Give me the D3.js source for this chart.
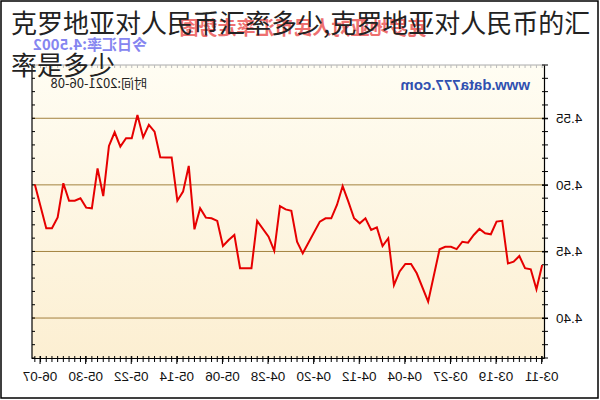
<!DOCTYPE html>
<html><head><meta charset="utf-8">
<script src="https://cdn.jsdelivr.net/npm/d3@7"></script>
<style>html,body{margin:0;padding:0;background:#fff;}svg{display:block;}</style>
</head><body>
<svg id="c" width="600" height="400"></svg>
<script>
const titleLines = ["克罗地亚对人民币汇率多少,克罗地亚对人民币的汇", "率是多少"];
const chartTitle = "克罗地亚对人民币汇率走势图";
const todayText = "今日汇率:4.5002";
const timeText = "时间:2021-06-08";
const siteText = "www.data777.com";
const dates = ["2021-03-11","2021-03-12","2021-03-13","2021-03-14","2021-03-15","2021-03-16","2021-03-17","2021-03-18","2021-03-19","2021-03-20","2021-03-21","2021-03-22","2021-03-23","2021-03-24","2021-03-25","2021-03-26","2021-03-27","2021-03-28","2021-03-29","2021-03-31","2021-04-02","2021-04-03","2021-04-04","2021-04-05","2021-04-06","2021-04-07","2021-04-08","2021-04-09","2021-04-10","2021-04-11","2021-04-12","2021-04-13","2021-04-14","2021-04-15","2021-04-16","2021-04-17","2021-04-18","2021-04-19","2021-04-22","2021-04-23","2021-04-24","2021-04-25","2021-04-26","2021-04-27","2021-04-28","2021-04-30","2021-05-01","2021-05-02","2021-05-03","2021-05-04","2021-05-05","2021-05-06","2021-05-07","2021-05-08","2021-05-09","2021-05-10","2021-05-11","2021-05-12","2021-05-13","2021-05-14","2021-05-15","2021-05-16","2021-05-17","2021-05-18","2021-05-19","2021-05-20","2021-05-21","2021-05-22","2021-05-23","2021-05-24","2021-05-25","2021-05-26","2021-05-27","2021-05-28","2021-05-29","2021-05-30","2021-05-31","2021-06-01","2021-06-02","2021-06-03","2021-06-04","2021-06-05","2021-06-06","2021-06-08"];
const rates = [4.4398,4.4216,4.4366,4.4374,4.4466,4.4423,4.4410,4.4730,4.4724,4.4629,4.4637,4.4669,4.4624,4.4566,4.4573,4.4518,4.4535,4.4535,4.4516,4.4123,4.4336,4.4406,4.4406,4.4350,4.4248,4.4599,4.4541,4.4681,4.4661,4.4749,4.4711,4.4749,4.4874,4.4991,4.4849,4.4749,4.4749,4.4724,4.4486,4.4573,4.4806,4.4816,4.4841,4.4505,4.4611,4.4729,4.4374,4.4374,4.4374,4.4624,4.4586,4.4541,4.4729,4.4749,4.4754,4.4824,4.4666,4.5142,4.4949,4.4881,4.5206,4.5206,4.5207,4.5400,4.5450,4.5357,4.5525,4.5350,4.5350,4.5287,4.5395,4.5292,4.4916,4.5124,4.4824,4.4829,4.4899,4.4881,4.4881,4.5012,4.4756,4.4674,4.4674,4.5002];
const xTickLabels = ["03-11","03-19","03-27","04-04","04-12","04-20","04-28","05-06","05-14","05-22","05-30","06-07"];
const yTicks = [4.40, 4.45, 4.50, 4.55];
const yDomain = [4.37, 4.59];
const axisStart = "2021-03-11", axisEnd = "2021-06-08";

const parse = d3.timeParse("%Y-%m-%d");
const svg = d3.select("#c");
const L = 55, R = 568, T = 65, B = 358;

// outer frame
svg.append("rect").attr("x",1).attr("y",1).attr("width",597).attr("height",397)
  .attr("fill","#fff").attr("stroke","#000").attr("stroke-width",1.5);

const defs = svg.append("defs");
const grad = defs.append("linearGradient").attr("id","bg").attr("x1",0).attr("y1",0).attr("x2",0).attr("y2",1);
grad.append("stop").attr("offset","0%").attr("stop-color","#fffdf3");
grad.append("stop").attr("offset","100%").attr("stop-color","#fcefd2");

// whole chart is mirrored horizontally, as in the reference
const g = svg.append("g").attr("transform","translate(600,0) scale(-1,1)");

const d0 = parse(axisStart), d1 = parse(axisEnd);
const x = d3.scaleTime()
  .domain([d3.timeHour.offset(d0,-12), d3.timeHour.offset(d1,12)])
  .range([L, R]);
const y = d3.scaleLinear().domain(yDomain).range([B, T]);

g.append("rect").attr("x",L).attr("y",T).attr("width",R-L).attr("height",B-T).attr("fill","url(#bg)");

// gridlines
g.selectAll(".grid").data(yTicks).enter().append("line")
  .attr("x1",L).attr("x2",R).attr("y1",d=>y(d)).attr("y2",d=>y(d))
  .attr("stroke","#a3823f").attr("stroke-width",1);

// top frame line with daily ticks
const days = d3.timeDay.range(d0, d3.timeDay.offset(d1,1));
g.append("line").attr("x1",L).attr("x2",R).attr("y1",T).attr("y2",T).attr("stroke","#aaa");
g.selectAll(".tt").data(days).enter().append("line")
  .attr("x1",d=>x(d)).attr("x2",d=>x(d)).attr("y1",T).attr("y2",T+3).attr("stroke","#bbb");

// bottom axis
const labelDates = xTickLabels.map(s => parse("2021-" + s));
const xAxis = d3.axisBottom(x).tickValues(labelDates).tickFormat(d3.timeFormat("%m-%d")).tickSize(6).tickSizeOuter(0);
const gx = g.append("g").attr("transform",`translate(0,${B})`).call(xAxis);
gx.select(".domain").attr("stroke","#000").attr("stroke-width",1.2);
gx.selectAll(".tick line").attr("stroke","#000").attr("y1",-2);
gx.selectAll(".tick text").attr("font-family","'Liberation Sans', Arial, sans-serif").attr("font-size",13.5).attr("fill","#111").attr("dy","1.05em");
g.selectAll(".bt").data(days).enter().append("line")
  .attr("x1",d=>x(d)).attr("x2",d=>x(d)).attr("y1",B-2).attr("y2",B+4).attr("stroke","#000");

// y ticks (minor every 0.01)
const yMinor = d3.range(0, 23).map(i => +(yDomain[0] + i*0.01).toFixed(2));
const yAxis = d3.axisLeft(y).tickValues(yTicks).tickFormat(d3.format(".2f")).tickSize(3).tickSizeOuter(0).tickPadding(8);
const gy = g.append("g").attr("transform",`translate(${L},0)`).call(yAxis);
gy.select(".domain").attr("stroke","#000").attr("stroke-width",1.2);
gy.selectAll(".tick line").attr("stroke","#000").attr("x2",-3).attr("x1",3);
gy.selectAll(".tick text").attr("font-family","'Liberation Sans', Arial, sans-serif").attr("font-size",13.5).attr("fill","#111");
g.selectAll(".ym").data(yMinor).enter().append("line")
  .attr("x1",L-3).attr("x2",L+3).attr("y1",d=>y(d)).attr("y2",d=>y(d)).attr("stroke","#000");
// right edge with inward ticks
g.append("line").attr("x1",R).attr("x2",R).attr("y1",T).attr("y2",B).attr("stroke","#000").attr("stroke-width",1.2);
g.selectAll(".yr").data(yMinor).enter().append("line")
  .attr("x1",R-3).attr("x2",R).attr("y1",d=>y(d)).attr("y2",d=>y(d)).attr("stroke","#000");

// data line
const data = dates.map((d,i)=>({date:parse(d), v:rates[i]}));
g.append("path").datum(data)
  .attr("d", d3.line().x(d=>x(d.date)).y(d=>y(d.v)))
  .attr("fill","none").attr("stroke","#e60000").attr("stroke-width",2).attr("stroke-linejoin","miter");

// chart texts (mirrored with chart)
g.append("text").attr("x",297).attr("y",35).attr("text-anchor","middle")
  .attr("font-family","'Noto Sans CJK SC', sans-serif").attr("font-weight","bold").attr("font-size",19)
  .attr("fill","#ee7070").text(chartTitle);
g.append("text").attr("x",453).attr("y",50)
  .attr("font-family","'Noto Sans CJK SC', sans-serif").attr("font-weight","bold").attr("font-size",15)
  .attr("fill","#8585f0").text(todayText);
g.append("text").attr("x",453).attr("y",88)
  .attr("font-family","'Noto Sans CJK SC', sans-serif").attr("font-size",13)
  .attr("fill","#222").text(timeText);
g.append("text").attr("x",70).attr("y",90)
  .attr("font-family","'Liberation Sans', Arial, sans-serif").attr("font-weight","bold").attr("font-size",15)
  .attr("fill","#3050b0").text(siteText);

// overlay title (not mirrored)
svg.append("text").attr("font-family","'Noto Sans CJK SC', sans-serif").attr("font-size",26).attr("fill","#222")
  .selectAll("tspan").data(titleLines).enter().append("tspan")
  .attr("x",11).attr("y",(d,i)=>33 + i*42).text(d=>d);
</script>
</body></html>
